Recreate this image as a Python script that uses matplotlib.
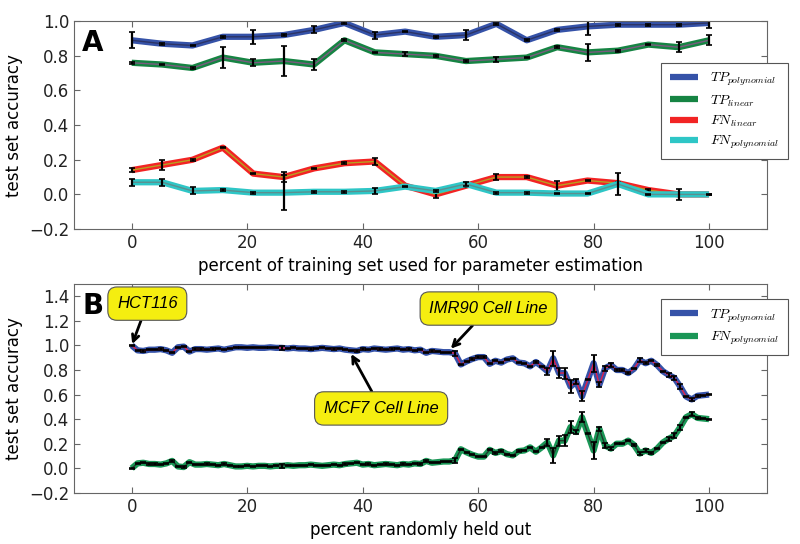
import matplotlib
matplotlib.use("Agg")
import matplotlib.pyplot as plt
import numpy as np

plt.rcParams['mathtext.fontset'] = 'cm'
plt.rcParams['font.family'] = 'DejaVu Sans'

# Panel A data: 20 training set fractions
pct_train = np.linspace(0, 100, 20)
tp_poly_a = [0.89, 0.87, 0.86, 0.91, 0.91, 0.92, 0.95, 0.99, 0.92, 0.94,
             0.91, 0.92, 0.985, 0.89, 0.95, 0.97, 0.98, 0.98, 0.98, 0.99]
tp_poly_a_err = [0.045, 0.005, 0.005, 0.005, 0.04, 0.005, 0.02, 0.005, 0.02, 0.005,
                 0.005, 0.03, 0.005, 0.005, 0.005, 0.05, 0.005, 0.005, 0.005, 0.03]
tp_lin_a = [0.76, 0.75, 0.73, 0.79, 0.76, 0.77, 0.75, 0.89, 0.82, 0.81,
            0.80, 0.77, 0.78, 0.79, 0.85, 0.82, 0.83, 0.865, 0.85, 0.89]
tp_lin_a_err = [0.005, 0.005, 0.005, 0.06, 0.02, 0.085, 0.03, 0.005, 0.005, 0.01,
                0.005, 0.005, 0.015, 0.005, 0.005, 0.05, 0.005, 0.005, 0.03, 0.03]
fn_lin_a = [0.14, 0.17, 0.20, 0.27, 0.12, 0.10, 0.15, 0.18, 0.19, 0.05,
            0.00, 0.05, 0.10, 0.10, 0.05, 0.08, 0.065, 0.025, 0.0, 0.0]
fn_lin_a_err = [0.01, 0.03, 0.005, 0.005, 0.005, 0.03, 0.005, 0.005, 0.02, 0.005,
                0.02, 0.005, 0.015, 0.005, 0.03, 0.005, 0.005, 0.005, 0.005, 0.005]
fn_poly_a = [0.07, 0.07, 0.02, 0.025, 0.01, 0.01, 0.015, 0.015, 0.02, 0.045,
             0.02, 0.06, 0.01, 0.01, 0.005, 0.005, 0.06, 0.0, 0.0, 0.0]
fn_poly_a_err = [0.02, 0.02, 0.02, 0.005, 0.005, 0.1, 0.005, 0.005, 0.015, 0.005,
                 0.005, 0.01, 0.005, 0.005, 0.005, 0.005, 0.065, 0.005, 0.03, 0.005]

# Panel B data: percent held out 0..100
pct_held = np.arange(0, 101)
tp_poly_b = [1.00, 0.96, 0.955, 0.965, 0.965, 0.97, 0.96, 0.94, 0.985, 0.99,
             0.95, 0.97, 0.97, 0.965, 0.97, 0.975, 0.965, 0.975, 0.985, 0.985,
             0.98, 0.985, 0.98, 0.98, 0.985, 0.98, 0.98, 0.975, 0.98, 0.975,
             0.975, 0.97, 0.975, 0.98, 0.975, 0.97, 0.975, 0.965, 0.96, 0.955,
             0.97, 0.965, 0.975, 0.97, 0.965, 0.97, 0.975, 0.965, 0.97, 0.96,
             0.965, 0.94, 0.955, 0.95, 0.945, 0.945, 0.935, 0.845, 0.87, 0.89,
             0.905, 0.905, 0.85, 0.875, 0.86, 0.885, 0.895, 0.86, 0.855, 0.83,
             0.865, 0.83, 0.79, 0.895, 0.775, 0.775, 0.665, 0.705, 0.585, 0.72,
             0.855, 0.68, 0.815, 0.84, 0.80, 0.80, 0.775, 0.81, 0.88, 0.855,
             0.875, 0.84, 0.79, 0.76, 0.735, 0.665, 0.585, 0.56, 0.59, 0.595,
             0.60]
fn_poly_b = [0.00, 0.04, 0.045, 0.035, 0.035, 0.03, 0.04, 0.06, 0.015, 0.01,
             0.05, 0.03, 0.03, 0.035, 0.03, 0.025, 0.035, 0.025, 0.015, 0.015,
             0.02, 0.015, 0.02, 0.02, 0.015, 0.02, 0.02, 0.025, 0.02, 0.025,
             0.025, 0.03, 0.025, 0.02, 0.025, 0.03, 0.025, 0.035, 0.04, 0.045,
             0.03, 0.035, 0.025, 0.03, 0.035, 0.03, 0.025, 0.035, 0.03, 0.04,
             0.035, 0.06, 0.045, 0.05, 0.055, 0.055, 0.065, 0.155, 0.13, 0.11,
             0.095, 0.095, 0.15, 0.125, 0.14, 0.115, 0.105, 0.14, 0.145, 0.17,
             0.135, 0.17, 0.21, 0.105, 0.225, 0.225, 0.335, 0.295, 0.415, 0.28,
             0.145, 0.32, 0.185, 0.16, 0.20, 0.20, 0.225, 0.19, 0.12, 0.145,
             0.125, 0.16, 0.21, 0.24, 0.265, 0.335, 0.415, 0.44, 0.41, 0.405,
             0.40]
err_b = [0.005] * 26 + [0.015] + [0.005] * 29 + [0.02] + [0.005] * 15 + \
        [0.03, 0.06, 0.04, 0.045, 0.05, 0.02, 0.04, 0.005, 0.07, 0.02,
         0.02, 0.015, 0.005, 0.005, 0.005, 0.005, 0.015, 0.01, 0.005, 0.005,
         0.005, 0.015, 0.02, 0.02, 0.005, 0.015, 0.01, 0.005, 0.005]

fig = plt.figure(figsize=(8, 5.44), dpi=100)
ax_a = fig.add_axes([0.0925, 0.579, 0.866, 0.382])
ax_b = fig.add_axes([0.0925, 0.094, 0.866, 0.384])


def style_axes(ax):
    for s in ax.spines.values():
        s.set_color('#666666')
    ax.tick_params(direction='in', top=True, right=True, length=4,
                   color='#666666', labelsize=12, labelcolor='#222222')


def draw_series(ax, x, y, err, color, inner, label, lw=4.5, elw=1.6):
    line, = ax.plot(x, y, color=color, lw=lw, label=label, solid_capstyle='butt')
    ax.plot(x, y, color=inner, lw=1)
    ax.errorbar(x, y, yerr=err, fmt='none', ecolor='black', elinewidth=elw,
                capsize=2.5, capthick=1.2)
    return line


def add_legend(ax, handles, top):
    leg = ax.legend(handles=handles, loc='upper left', bbox_to_anchor=(0.848, top),
                    borderaxespad=0, fontsize=10, fancybox=False, framealpha=1,
                    edgecolor='#555555', handlelength=2.0, handletextpad=0.9,
                    labelspacing=0.35, borderpad=0.6)
    leg.get_frame().set_linewidth(0.8)


# Panel A
h1 = draw_series(ax_a, pct_train, tp_poly_a, tp_poly_a_err, '#3552a8', '#2c3466',
                 r'$TP_{polynomial}$')
h2 = draw_series(ax_a, pct_train, tp_lin_a, tp_lin_a_err, '#168443', '#7b5a80',
                 r'$TP_{linear}$')
h3 = draw_series(ax_a, pct_train, fn_lin_a, fn_lin_a_err, '#f22424', '#b8a020',
                 r'$FN_{linear}$')
h4 = draw_series(ax_a, pct_train, fn_poly_a, fn_poly_a_err, '#2ec6c6', '#5b8f8f',
                 r'$FN_{polynomial}$')
ax_a.set_xlim(-10, 110)
ax_a.set_ylim(-0.2, 1.0)
ax_a.set_yticks([-0.2, 0.0, 0.2, 0.4, 0.6, 0.8, 1.0])
ax_a.set_xticks([0, 20, 40, 60, 80, 100])
ax_a.set_xlabel('percent of training set used for parameter estimation', fontsize=12)
ax_a.set_ylabel('test set accuracy', fontsize=12)
style_axes(ax_a)
ax_a.text(0.012, 0.895, 'A', transform=ax_a.transAxes, fontsize=20,
          fontweight='heavy', va='center', ha='left')
add_legend(ax_a, [h1, h2, h3, h4], 0.80)

# Panel B
g1 = draw_series(ax_b, pct_held, tp_poly_b, err_b, '#3552a8', '#e0204a',
                 r'$TP_{polynomial}$', lw=4.5, elw=1.5)
g2 = draw_series(ax_b, pct_held, fn_poly_b, err_b, '#1a9656', '#1f3a2a',
                 r'$FN_{polynomial}$', lw=4.5, elw=1.5)
ax_b.set_xlim(-10, 110)
ax_b.set_ylim(-0.2, 1.5)
ax_b.set_yticks([-0.2, 0.0, 0.2, 0.4, 0.6, 0.8, 1.0, 1.2, 1.4])
ax_b.set_xticks([0, 20, 40, 60, 80, 100])
ax_b.set_xlabel('percent randomly held out', fontsize=12)
ax_b.set_ylabel('test set accuracy', fontsize=12)
style_axes(ax_b)
ax_b.text(0.012, 0.895, 'B', transform=ax_b.transAxes, fontsize=20,
          fontweight='heavy', va='center', ha='left')
add_legend(ax_b, [g1, g2], 0.928)

box = dict(boxstyle='round,pad=0.55', fc='#f5ee10', ec='#555555', lw=0.8)
arrow = dict(arrowstyle='->', lw=2, color='black', shrinkA=0, shrinkB=1)
ax_b.annotate('HCT116', xy=(0, 1.0), xytext=(2.7, 1.34), fontsize=12,
              style='italic', family='Liberation Sans', ha='center', va='center',
              bbox=box, arrowprops=arrow)
ax_b.annotate('IMR90 Cell Line', xy=(55.1, 0.965), xytext=(61.8, 1.30), fontsize=12,
              style='italic', family='Liberation Sans', ha='center', va='center',
              bbox=box, arrowprops=arrow)
ax_b.annotate('MCF7 Cell Line', xy=(37.9, 0.94), xytext=(43.2, 0.487), fontsize=12,
              style='italic', family='Liberation Sans', ha='center', va='center',
              bbox=box, arrowprops=arrow)

fig.savefig('out.png', dpi=100)
